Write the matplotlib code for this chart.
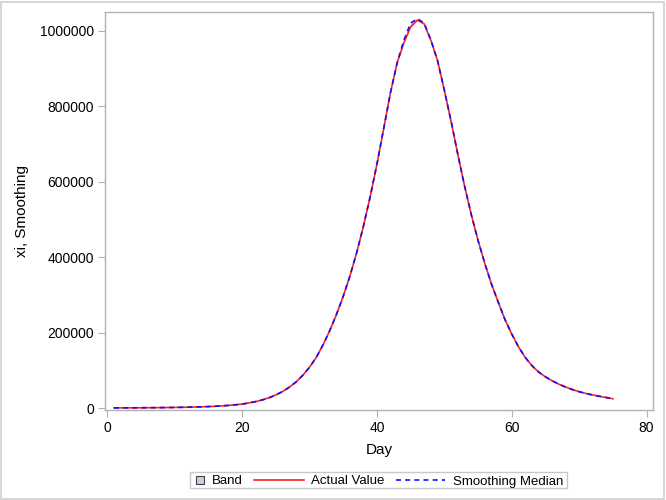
import matplotlib
matplotlib.use("Agg")
import matplotlib.pyplot as plt
from matplotlib.patches import Rectangle
from matplotlib.lines import Line2D

# values
days = list(range(1, 76))
actual = [310, 370, 440, 520, 620, 740, 880, 1050, 1250, 1500,
          1800, 2150, 2600, 3150, 3800, 4600, 5600, 6900, 8500, 10500,
          13300, 16900, 21400, 27200, 34500, 43600, 55000, 69000, 86500, 108000,
          134000, 167000, 205000, 248000, 296000, 350000, 412000, 482000, 560000, 646000,
          740000, 835000, 915000, 968000, 1010000, 1028000, 1018000, 975000, 920000, 842000,
          760000, 672000, 588000, 512000, 444000, 383000, 328000, 280000, 234000, 196000,
          162000, 134000, 112000, 95000, 82500, 72000, 63000, 55500, 48800, 43200,
          38500, 34500, 31000, 27800, 24500]
smooth = list(actual)
smooth[43] = 975000
smooth[44] = 1020000
smooth[45] = 1032000
smooth[46] = 1020000

band_lo = [min(a, s) for a, s in zip(actual, smooth)]
band_hi = [max(a, s) for a, s in zip(actual, smooth)]
legend_labels = ["Band", "Actual Value", "Smoothing Median"]

plt.rcParams['font.family'] = ['Liberation Sans', 'DejaVu Sans']
grey = "#AEB2B6"
band_col = "#C5D2E6"
red = "#FF2020"
blue = "#1010FF"
dash = (0, (3, 2.5))

W, H = 666, 500
fig = plt.figure(figsize=(W / 100, H / 100), dpi=100)
ax = fig.add_axes([0.158, 0.18, 0.822, 0.796])

ax.fill_between(days, band_lo, band_hi, color=band_col, lw=0)
ax.plot(days, actual, color=red, lw=1.2)
ax.plot(days, smooth, color=blue, lw=1.2, ls=dash)

ax.set_xlim(-0.3, 80.9)
ax.set_ylim(-5300, 1049500)
ax.set_xticks([0, 20, 40, 60, 80])
ax.set_yticks([0, 200000, 400000, 600000, 800000, 1000000])
ax.set_yticklabels(["0", "200000", "400000", "600000", "800000", "1000000"])
ax.tick_params(direction="out", length=5, color=grey, labelsize=10, pad=3)
for sp in ax.spines.values():
    sp.set_color(grey)
    sp.set_linewidth(1.0)
ax.set_xlabel("Day", fontsize=11, labelpad=6)
ax.set_ylabel("xi, Smoothing", fontsize=11, labelpad=8)

# legend drawn by hand (SAS style: small square for the band)
def fx(px):
    return px / W

def fy(py):
    return 1 - py / H

ly = 480
fig.patches.append(Rectangle((fx(190), fy(488)), fx(377), 16 / H, transform=fig.transFigure,
                             fill=False, edgecolor="#C8C8C8", lw=1.0))
fig.patches.append(Rectangle((fx(196), fy(484)), fx(8), 8 / H, transform=fig.transFigure,
                             facecolor=band_col, edgecolor="#404040", lw=0.8))
fig.lines.append(Line2D([fx(254), fx(304)], [fy(ly), fy(ly)], transform=fig.transFigure,
                        color=red, lw=1.2))
fig.lines.append(Line2D([fx(396), fx(445)], [fy(ly), fy(ly)], transform=fig.transFigure,
                        color=blue, lw=1.2, ls=dash))
for x0, lab in zip([212, 311, 453], legend_labels):
    fig.text(fx(x0), fy(ly), lab, fontsize=9.5, va="center_baseline", ha="left")

fig.patches.append(Rectangle((0.002, 0.003), 0.995, 0.994, transform=fig.transFigure,
                             fill=False, edgecolor="#D0D0D0", lw=1.2))

fig.savefig("out.png", dpi=100)
